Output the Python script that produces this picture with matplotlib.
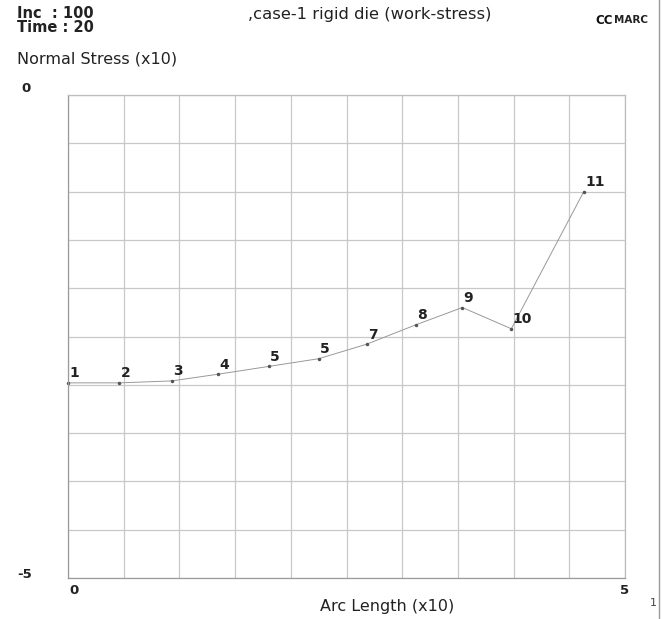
import matplotlib
matplotlib.use('Agg')
import matplotlib.pyplot as plt
from matplotlib.lines import Line2D

plt.rcParams['font.family'] = ['DejaVu Sans']

# 節點編號與讀取值 (arc length x10, normal stress x10)
arc_len = [0.0, 0.46, 0.93, 1.35, 1.80, 2.25, 2.68, 3.12, 3.54, 3.98, 4.63]
stress = [-2.98, -2.98, -2.96, -2.89, -2.81, -2.73, -2.58, -2.38, -2.20, -2.42, -1.00]
label_shown = ['1', '2', '3', '4', '5', '5', '7', '8', '9', '10', '11']

W, H = 668, 619
fig = plt.figure(figsize=(W / 100, H / 100), dpi=100)
ax = fig.add_axes([68 / W, 1 - 578 / H, (625 - 68) / W, (578 - 95) / H])

ax.set_xlim(0, 5)
ax.set_ylim(-5, 0)
ax.set_xticks([i * 0.5 for i in range(11)])
ax.set_yticks([-5 + i * 0.5 for i in range(11)])
ax.tick_params(length=0, labelbottom=False, labelleft=False)
ax.grid(True, color='#c8c8c8', lw=0.9)
for s in ax.spines.values():
    s.set_color('#bdbdbd')
    s.set_linewidth(0.9)
ax.spines['left'].set_color('#9a9a9a')
ax.spines['bottom'].set_color('#9a9a9a')

ax.plot(arc_len, stress, color='#999999', lw=0.7, marker='o', ms=1.5,
        mfc='#555555', mec='#555555', clip_on=False)
for x, y, t in zip(arc_len, stress, label_shown):
    ax.annotate(t, (x, y), xytext=(1, 4), textcoords='offset points',
                fontsize=10, fontweight='bold', color='#222222')

# 標頭與軸標籤
kw = dict(fontsize=10.5, color='#222222', fontweight='bold')
tk = dict(fontsize=9.5, color='#222222', fontweight='bold')
fig.text(17 / W, 1 - 18 / H, 'Inc  : 100', **kw)
fig.text(17 / W, 1 - 32 / H, 'Time : 20', **kw)
fig.text(248 / W, 1 - 19 / H, ',case-1 rigid die (work-stress)', fontsize=11.8,
         color='#222222')
fig.text(595 / W, 1 - 24 / H, 'CC', fontsize=8.5, fontweight='bold', color='#111111')
fig.text(614 / W, 1 - 23 / H, 'MARC', fontsize=7.5, fontweight='bold', color='#222222')
fig.text(17 / W, 1 - 64 / H, 'Normal Stress (x10)', fontsize=11.5, color='#222222')
fig.text(21 / W, 1 - 92 / H, '0', **tk)
fig.text(17 / W, 1 - 578 / H, '-5', **tk)
fig.text(69 / W, 1 - 594 / H, '0', **tk)
fig.text(620 / W, 1 - 594 / H, '5', **tk)
fig.text(320 / W, 1 - 611 / H, 'Arc Length (x10)', fontsize=11.5, color='#222222')
fig.text(650 / W, 1 - 606 / H, '1', fontsize=8, color='#444444')

fig.add_artist(Line2D([659 / W, 659 / W], [0, 1], color='#999999', lw=1,
                      transform=fig.transFigure))

fig.savefig('out.png', dpi=100)
